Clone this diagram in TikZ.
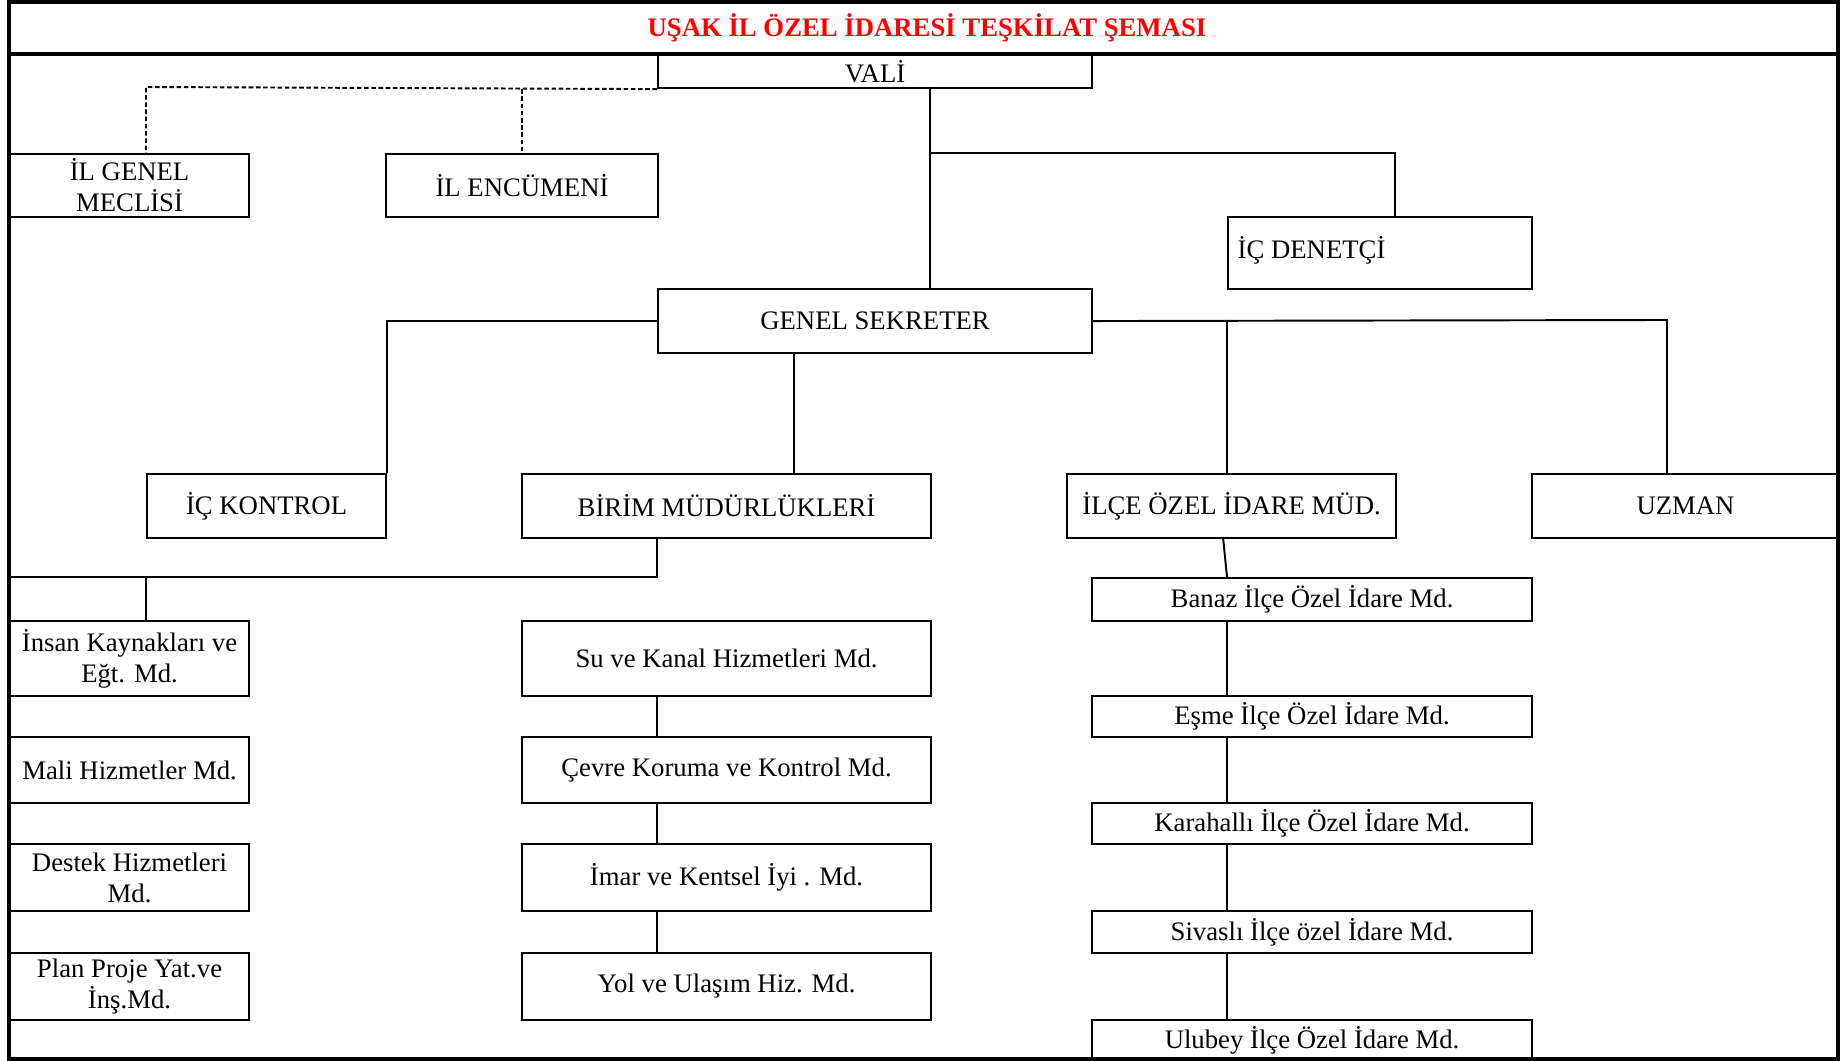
\documentclass[tikz,border=0pt]{standalone}
\usepackage{fontspec}
\setmainfont{Liberation Serif}
\newcommand{\orgfont}{\fontsize{7.6pt}{8.8pt}\selectfont}
\tikzset{
  box/.style={draw, line width=0.6pt, inner sep=0pt, align=center, font=\orgfont},
  link/.style={line width=0.55pt},
  dashline/.style={line width=0.55pt, dash pattern=on 1.3pt off 0.75pt},
  frame/.style={line width=0.9pt}
}
% box from its top-left to its bottom-right corner (in pixels)
\newcommand{\orgbox}[6]{%
  \node[box, anchor=north west, minimum width={(#4-#2)*0.01cm},
        minimum height={(#5-#3)*0.01cm}] (#1) at (#2,#3) {#6};}
\begin{document}
\begin{tikzpicture}[x=0.01cm, y=-0.01cm]
    \useasboundingbox (0,0) rectangle (1847,1061);
    \draw[frame] (9,2) rectangle (1838,1059);
    \draw[frame] (9,54) -- (1838,54);
    \node[font=\orgfont\bfseries, text=red] (title) at (927,28) {UŞAK İL ÖZEL İDARESİ TEŞKİLAT ŞEMASI};

    \orgbox{vali}{657}{54}{1091}{87}{VALİ}
    \orgbox{meclis}{9}{153}{248}{216}{İL GENEL\\MECLİSİ}
    \orgbox{encumen}{385}{153}{657}{216}{İL ENCÜMENİ}
    \orgbox{denetci}{1227}{216}{1531}{288}{}
    \node[font=\orgfont, anchor=west, inner sep=0pt] (denetcitext) at (1237,250) {İÇ DENETÇİ};
    \orgbox{gensek}{657}{288}{1091}{352}{GENEL SEKRETER}

    \orgbox{ickontrol}{146}{473}{385}{537}{İÇ KONTROL}
    \orgbox{birim}{521}{473}{930}{537}{BİRİM MÜDÜRLÜKLERİ}
    \orgbox{ilce}{1066}{473}{1395}{537}{İLÇE ÖZEL İDARE MÜD.}
    \orgbox{uzman}{1531}{473}{1838}{537}{UZMAN}

    \orgbox{insan}{9}{620}{248}{695}{İnsan Kaynakları ve\\Eğt. Md.}
    \orgbox{mali}{9}{736}{248}{802}{Mali Hizmetler Md.}
    \orgbox{destek}{9}{843}{248}{910}{Destek Hizmetleri\\Md.}
    \orgbox{plan}{9}{952}{248}{1019}{Plan Proje Yat.ve\\İnş.Md.}

    \orgbox{su}{521}{620}{930}{695}{Su ve Kanal Hizmetleri Md.}
    \orgbox{cevre}{521}{736}{930}{802}{Çevre Koruma ve Kontrol Md.}
    \orgbox{imar}{521}{843}{930}{910}{İmar ve Kentsel İyi . Md.}
    \orgbox{yol}{521}{952}{930}{1019}{Yol ve Ulaşım Hiz. Md.}

    \orgbox{banaz}{1091}{577}{1531}{620}{Banaz İlçe Özel İdare Md.}
    \orgbox{esme}{1091}{695}{1531}{736}{Eşme İlçe Özel İdare Md.}
    \orgbox{karahalli}{1091}{802}{1531}{843}{Karahallı İlçe Özel İdare Md.}
    \orgbox{sivasli}{1091}{910}{1531}{952}{Sivaslı İlçe özel İdare Md.}
    \orgbox{ulubey}{1091}{1019}{1531}{1059}{Ulubey İlçe Özel İdare Md.}

    % junction points
    \coordinate (dashj) at (146,87);
    \coordinate (valij) at (930,87);
    \coordinate (denj) at (1395,153);
    \coordinate (birj) at (794,352);
    \coordinate (ilj) at (1227,320);
    \coordinate (uzj) at (1667,320);
    \coordinate (bj) at (657,577);
    \coordinate (ij) at (146,577);
    \coordinate (ilb) at (1223,537);

    \draw[dashline] (vali.south west) -- (dashj) -- (dashj |- meclis.north);
    \draw[dashline] (encumen.north |- vali.south) -- (encumen.north);

    \draw[link] (valij) -- (valij |- gensek.north);
    \draw[link] (valij |- denj) -- (denj) -- (denj |- denetci.north);

    \draw[link] (gensek.west) -| (ickontrol.north east);
    \draw[link] (birj) -- (birj |- birim.north);
    \draw[link] (gensek.east) -- (uzj) -- (uzj |- uzman.north);
    \draw[link] (ilj) -- (ilj |- ilce.north);

    \draw[link] (bj |- birim.south) -- (bj) -- (bj -| insan.west);
    \draw[link] (ij) -- (ij |- insan.north);
    \foreach \a/\b in {su/cevre, cevre/imar, imar/yol}
      \draw[link] (bj |- \a.south) -- (bj |- \b.north);

    \draw[link] (ilb) -- (ilj |- banaz.north);
    \foreach \a/\b in {banaz/esme, esme/karahalli, karahalli/sivasli, sivasli/ulubey}
      \draw[link] (ilj |- \a.south) -- (ilj |- \b.north);
\end{tikzpicture}
\end{document}
